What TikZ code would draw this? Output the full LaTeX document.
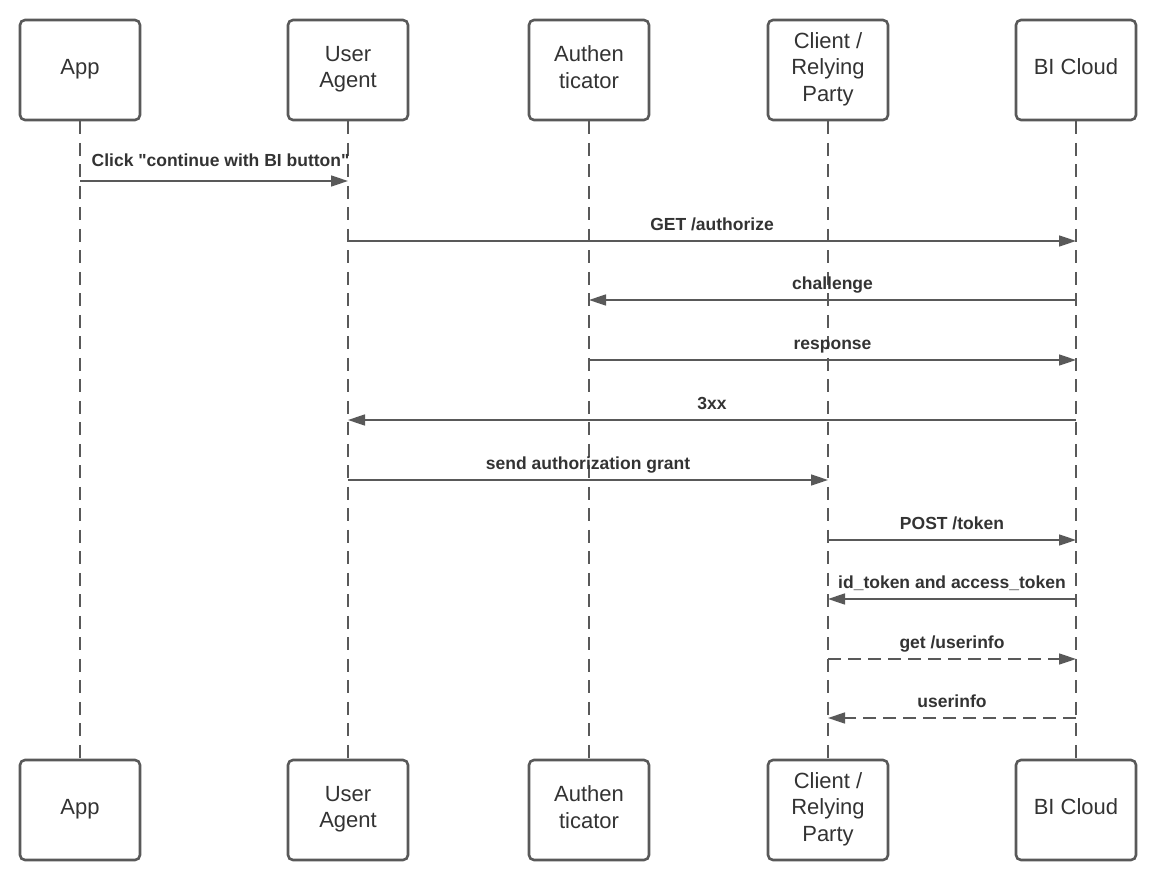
\documentclass[tikz,border=0pt]{standalone}
\usepackage{fontspec}
\setmainfont{Liberation Sans}
\usetikzlibrary{arrows.meta}

\definecolor{lineGray}{HTML}{595959}
\definecolor{textGray}{HTML}{333333}

\begin{document}
\begin{tikzpicture}[x=1pt,y=-1pt,
    actor/.style={draw=lineGray, line width=2.6pt, rounded corners=5pt,
      minimum width=120pt, minimum height=100pt, align=center,
      text depth=6pt, text=textGray, font=\fontsize{22}{26.5}\selectfont},
    lifeline/.style={draw=lineGray, line width=1.6pt, dash pattern=on 13pt off 8.5pt},
    msg/.style={draw=lineGray, line width=1.6pt, -{Triangle[length=17pt,width=11pt]}},
    reply/.style={msg, dash pattern=on 13pt off 7pt},
    lbl/.style={midway, anchor=base, yshift=10.5pt, text=textGray,
      font=\fontsize{17.5}{20}\selectfont\bfseries}]
  \useasboundingbox (0,0) rectangle (1156,880);

  % Participants (top)
  \node[actor] (appT)  at (80,70)   {App};
  \node[actor] (uaT)   at (348,70)  {User\\Agent};
  \node[actor] (authT) at (589,70)  {Authen\\ticator};
  \node[actor] (rpT)   at (828,70)  {Client /\\Relying\\Party};
  \node[actor] (biT)   at (1076,70) {BI Cloud};

  % Participants (bottom)
  \node[actor] (appB)  at (80,810)   {App};
  \node[actor] (uaB)   at (348,810)  {User\\Agent};
  \node[actor] (authB) at (589,810)  {Authen\\ticator};
  \node[actor] (rpB)   at (828,810)  {Client /\\Relying\\Party};
  \node[actor] (biB)   at (1076,810) {BI Cloud};

  % Lifelines
  \draw[lifeline] (appT.south)  -- (appB.north);
  \draw[lifeline] (uaT.south)   -- (uaB.north);
  \draw[lifeline] (authT.south) -- (authB.north);
  \draw[lifeline] (rpT.south)   -- (rpB.north);
  \draw[lifeline] (biT.south)   -- (biB.north);

  % Message rows
  \coordinate (m1)  at (0,181);
  \coordinate (m2)  at (0,241);
  \coordinate (m3)  at (0,300);
  \coordinate (m4)  at (0,360);
  \coordinate (m5)  at (0,420);
  \coordinate (m6)  at (0,480);
  \coordinate (m7)  at (0,540);
  \coordinate (m8)  at (0,599);
  \coordinate (m9)  at (0,659);
  \coordinate (m10) at (0,718);

  % Messages
  \draw[msg] (appT |- m1) -- (uaT |- m1)
    node[lbl, xshift=6.5pt, yshift=4.5pt] {Click \textquotedbl continue with BI button\textquotedbl};
  \draw[msg] (uaT |- m2) -- (biT |- m2)
    node[lbl] {GET /authorize};
  \draw[msg] (biT |- m3) -- (authT |- m3)
    node[lbl] {challenge};
  \draw[msg] (authT |- m4) -- (biT |- m4)
    node[lbl] {response};
  \draw[msg] (biT |- m5) -- (uaT |- m5)
    node[lbl] {3xx};
  \draw[msg] (uaT |- m6) -- (rpT |- m6)
    node[lbl] {send authorization grant};
  \draw[msg] (rpT |- m7) -- (biT |- m7)
    node[lbl] {POST /token};
  \draw[msg] (biT |- m8) -- (rpT |- m8)
    node[lbl] {id\_token and access\_token};
  \draw[reply] (rpT |- m9) -- (biT |- m9)
    node[lbl] {get /userinfo};
  \draw[reply] (biT |- m10) -- (rpT |- m10)
    node[lbl] {userinfo};
\end{tikzpicture}
\end{document}
